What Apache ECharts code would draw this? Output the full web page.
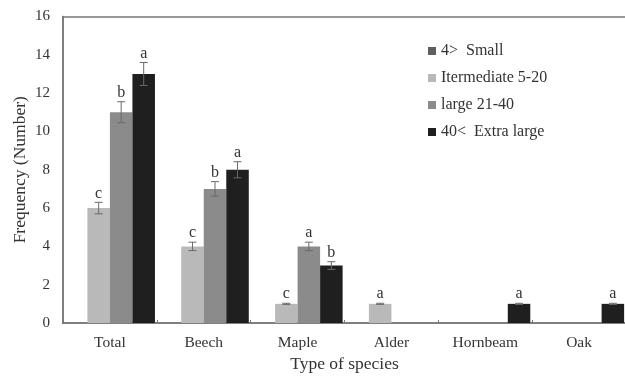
<!DOCTYPE html>
<html>
<head>
<meta charset="utf-8">
<script src="https://cdn.jsdelivr.net/npm/echarts@6/dist/echarts.min.js"></script>
<style>html,body{margin:0;padding:0;background:#fff;}#c{width:625px;height:376px;}</style>
</head>
<body>
<div id="c"></div>
<script>
var categories = ['Total', 'Beech', 'Maple', 'Alder', 'Hornbeam', 'Oak'];
var seriesNames = ['4>  Small', 'Itermediate 5-20', 'large 21-40', '40<  Extra large'];
var small = [null, null, null, null, null, null];
var intermediate = [6, 4, 1, 1, null, null];
var large = [11, 7, 4, null, null, null];
var extraLarge = [13, 8, 3, null, 1, 1];
var smallErr = [null, null, null, null, null, null];
var intermediateErr = [0.3, 0.22, 0.03, 0.03, null, null];
var largeErr = [0.55, 0.38, 0.22, null, null, null];
var extraLargeErr = [0.6, 0.42, 0.2, null, 0.03, 0.03];
var smallLetters = ['', '', '', '', '', ''];
var intermediateLetters = ['c', 'c', 'c', 'a', '', ''];
var largeLetters = ['b', 'b', 'a', '', '', ''];
var extraLargeLetters = ['a', 'a', 'b', '', 'a', 'a'];
var yTicks = [0, 2, 4, 6, 8, 10, 12, 14, 16];

var colors = ['#5e5e5e', '#b9b9b9', '#8b8b8b', '#1f1f1f'];
var values = [small, intermediate, large, extraLarge];
var errs = [smallErr, intermediateErr, largeErr, extraLargeErr];
var letters = [smallLetters, intermediateLetters, largeLetters, extraLargeLetters];
var font = 'Liberation Serif';
var gapPct = 0.04;

var series = [];
values.forEach(function (v, k) {
  series.push({
    name: seriesNames[k], type: 'bar', data: v,
    barGap: '0%', barCategoryGap: (gapPct * 100) + '%',
    itemStyle: { color: colors[k] }
  });
});
values.forEach(function (v, k) {
  var data = [];
  v.forEach(function (val, i) {
    if (val != null) data.push([i, val, errs[k][i] || 0, k, letters[k][i]]);
  });
  series.push({
    type: 'custom', silent: true, z: 5,
    data: data,
    renderItem: function (params, api) {
      var i = api.value(0), val = api.value(1), e = api.value(2), sk = api.value(3);
      var band = api.size([1, 0])[0];
      var bw = band * (1 - gapPct) / 4;
      var cx = api.coord([i, val])[0] + (sk - 1.5) * bw;
      var yTop = api.coord([i, val + e])[1];
      var yBot = api.coord([i, val - e])[1];
      var cap = 4;
      var st = { stroke: '#6a6a6a', lineWidth: 1 };
      var txt = data[params.dataIndex][4];
      return {
        type: 'group',
        children: [
          { type: 'line', shape: { x1: cx, y1: yTop, x2: cx, y2: yBot }, style: st },
          { type: 'line', shape: { x1: cx - cap, y1: yTop, x2: cx + cap, y2: yTop }, style: st },
          { type: 'line', shape: { x1: cx - cap, y1: yBot, x2: cx + cap, y2: yBot }, style: st },
          { type: 'text', style: { text: txt, x: cx, y: yTop - 1, align: 'center', verticalAlign: 'bottom', font: '16px "Liberation Serif"', fill: '#333' } }
        ]
      };
    }
  });
});

var chart = echarts.init(document.getElementById('c'));
chart.setOption({
  animation: false,
  backgroundColor: '#fff',
  grid: { left: 63, top: 16.5, width: 563, height: 306.5, containLabel: false, outerBoundsMode: 'none' },
  legend: {
    orient: 'vertical', left: 423, top: 38,
    itemWidth: 8, itemHeight: 8, itemGap: 11,
    icon: 'rect',
    data: seriesNames,
    textStyle: { fontFamily: font, fontSize: 16, color: '#333', padding: [0, 0, 0, 0] }
  },
  xAxis: [{
    type: 'category', data: categories,
    axisLine: { lineStyle: { color: '#555', width: 1.5 } },
    axisTick: { show: true, inside: true, length: 3, lineStyle: { color: '#777' } },
    axisLabel: { fontFamily: font, fontSize: 15.5, color: '#333', margin: 12 },
    name: 'Type of species', nameLocation: 'middle', nameGap: 31,
    nameTextStyle: { fontFamily: font, fontSize: 17.5, color: '#333' }
  }, {
    type: 'category', data: categories, position: 'top',
    axisLine: { lineStyle: { color: '#777', width: 1.5 } },
    axisTick: { show: false }, axisLabel: { show: false }
  }],
  yAxis: {
    type: 'value', min: yTicks[0], max: yTicks[yTicks.length - 1], interval: 2,
    axisLine: { show: true, lineStyle: { color: '#555', width: 1.5 } },
    axisTick: { show: false },
    splitLine: { show: false },
    axisLabel: { fontFamily: font, fontSize: 15, color: '#333', margin: 13 },
    name: 'Frequency (Number)', nameLocation: 'middle', nameGap: 34, nameMoveOverlap: false,
    nameTextStyle: { fontFamily: font, fontSize: 17.5, color: '#333' }
  },
  series: series
});
</script>
</body>
</html>
